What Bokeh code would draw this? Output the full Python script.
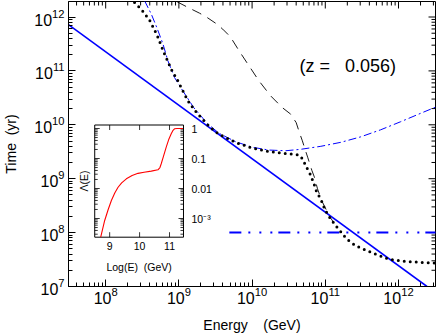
import math
from bokeh.plotting import figure
from bokeh.models import FixedTicker, Range1d, LinearScale, LogScale, LogTickFormatter
from bokeh.embed import file_html
from bokeh.resources import INLINE
from bokeh.core.properties import value

# ---------------- data (E in GeV, time in yr) ----------------
dot_E = [2.48e8, 3.13e8, 3.97e8, 5.01e8, 6.25e8, 7.85e8, 9.68e8, 1.13e9, 1.33e9, 1.60e9,
         2.01e9, 2.48e9, 3.05e9, 3.54e9, 5.98e9, 1.01e10, 1.70e10, 2.87e10, 4.36e10, 4.89e10,
         5.42e10, 6.21e10, 6.90e10, 7.66e10, 8.69e10, 9.55e10, 1.07e11, 1.19e11, 1.39e11,
         1.59e11, 1.80e11, 2.11e11, 2.61e11, 3.17e11, 4.83e11, 7.33e11, 1.24e12, 3.17e12]
dot_T = [1.86e12, 1.34e12, 8.77e11, 4.68e11, 2.19e11, 1.08e11, 6.55e10, 4.28e10, 2.79e10, 1.95e10,
         1.36e10, 1.00e10, 7.74e9, 6.71e9, 4.70e9, 3.70e9, 3.20e9, 2.94e9, 2.77e9, 2.34e9,
         1.73e9, 1.22e9, 8.51e8, 5.55e8, 4.19e8, 3.01e8, 2.20e8, 1.78e8, 1.34e8,
         1.08e8, 8.71e7, 7.03e7, 5.68e7, 5.07e7, 3.99e7, 3.22e7, 2.91e7, 2.72e7]

dashdot_E = [3.40e8, 4.20e8, 5.01e8, 6.05e8, 7.08e8, 8.71e8, 1.13e9, 1.60e9, 2.48e9, 3.54e9, 5.98e9,
             1.01e10, 1.70e10, 2.87e10, 4.63e10, 8.69e10, 1.63e11, 3.05e11, 5.70e11, 1.07e12, 2.00e12, 3.30e12]
dashdot_T = [2.0e12, 1.13e12, 6.31e11, 3.18e11, 1.54e11, 7.55e10, 4.28e10, 2.07e10, 1.04e10, 6.95e9, 4.84e9,
             3.83e9, 3.40e9, 3.30e9, 3.51e9, 3.99e9, 4.73e9, 5.98e9, 8.07e9, 1.14e10, 1.63e10, 2.16e10]

dash_E = [9.48e8, 1.39e9, 1.91e9, 2.43e9, 3.22e9, 3.97e9, 5.05e9, 6.64e9, 9.08e9, 1.24e10, 1.79e10,
          2.58e10, 3.36e10, 4.00e10, 4.43e10, 4.86e10, 5.26e10, 5.78e10, 6.55e10, 7.08e10, 7.83e10,
          8.95e10, 1.02e11, 1.13e11, 1.31e11]
dash_T = [1.91e12, 1.46e12, 1.18e12, 9.79e11, 7.57e11, 5.96e11, 4.29e11, 2.36e11, 1.24e11, 6.55e10, 3.45e10,
          2.09e10, 1.58e10, 1.10e10, 7.19e9, 5.05e9, 3.59e9, 2.44e9, 1.43e9, 1.08e9, 6.50e8,
          3.89e8, 2.73e8, 2.05e8, 1.52e8]

solid_E = [3.1e7, 2.45e12]
solid_T = [7.24e11, 1.0e7]

horiz_E = [4.89e9, 3.3e12]
horiz_T = [1.0e8, 1.0e8]

inset_logE = [8.70, 8.833, 8.95, 9.057, 9.17, 9.28, 9.40, 9.557, 9.75, 9.947, 10.15, 10.39,
              10.613, 10.68, 10.723, 10.80, 10.89, 10.97, 11.057, 11.11, 11.167, 11.25, 11.447]
inset_lambda = [2.4e-4, 8.6e-4, 2.0e-3, 4.0e-3, 7.1e-3, 1.1e-2, 1.55e-2, 2.1e-2, 2.7e-2, 3.2e-2, 3.5e-2, 3.8e-2,
                4.2e-2, 5.0e-2, 6.7e-2, 0.12, 0.24, 0.42, 0.67, 0.85, 0.98, 1.0, 1.0]

x_ticks = [1e8, 1e9, 1e10, 1e11, 1e12]
y_ticks = [1e7, 1e8, 1e9, 1e10, 1e11, 1e12]

inset_x_ticks = [9, 10, 11]
inset_x_tick_labels = ["9", "10", "11"]
inset_y_ticks = [1.0, 0.1, 0.01, 0.001]
inset_y_tick_labels = ["1", "0.1", "0.01", "10⁻³"]

annotation = "(z\u00a0=\u00a0\u00a0\u00a00.056)"
x_title = "Energy\u00a0\u00a0\u00a0\u00a0(GeV)"
y_title = "Time\u00a0\u00a0(yr)"

# ---------------- layout ----------------
FONT = "Liberation Sans"
W, H = 436, 335
BL, BR, BT, BB = 67, 1, 1, 49
FW, FH = W - BL - BR, H - BT - BB
PX_DEC_X, PX_DEC_Y = 73.4, 53.9
X_LO = 7.492
X_HI = X_LO + FW / PX_DEC_X
Y_LO = 7.0
Y_HI = Y_LO + FH / PX_DEC_Y

# inset box, in px relative to the frame's left / top edge
IN_L, IN_R, IN_T, IN_B = 26.3, 115.3, 123.5, 235.7
IX0, IX1 = 8.5, 11.467          # inset x limits (log E)
IY0, IY1 = -3.623, 0.117        # inset y limits (log10 Lambda)
ipx_x = (IN_R - IN_L) / (IX1 - IX0)
ipx_y = (IN_B - IN_T) / (IY1 - IY0)
ix_start = IX0 - IN_L / ipx_x
ix_end = IX1 + (FW - IN_R) / ipx_x
iy_hi = IY1 + IN_T / ipx_y
iy_lo = IY0 - (FH - IN_B) / ipx_y

p = figure(width=W, height=H, x_axis_type="log", y_axis_type="log",
           x_range=Range1d(10 ** X_LO, 10 ** X_HI), y_range=Range1d(10 ** Y_LO, 10 ** Y_HI),
           output_backend="svg", toolbar_location=None,
           min_border_left=BL, min_border_right=BR, min_border_top=BT, min_border_bottom=BB)
p.grid.visible = False
p.outline_line_color = "black"
p.outline_line_width = 1
p.background_fill_color = "white"
p.border_fill_color = "white"


def minors(lo, hi):
    out = []
    for d in range(int(math.floor(lo)) - 1, int(math.ceil(hi)) + 1):
        for m in range(2, 10):
            v = m * 10.0 ** d
            if 10 ** lo <= v <= 10 ** hi:
                out.append(v)
    return out


MAJ_IN, MIN_IN = 7, 4
xm = minors(X_LO, X_HI)
ym = minors(Y_LO, Y_HI)
for ax, ticks, mn in ((p.xaxis[0], x_ticks, xm), (p.yaxis[0], y_ticks, ym)):
    ax.ticker = FixedTicker(ticks=ticks, minor_ticks=mn)
    ax.formatter = LogTickFormatter()
    ax.major_tick_in = MAJ_IN
    ax.major_tick_out = 0
    ax.minor_tick_in = MIN_IN
    ax.minor_tick_out = 0
    ax.axis_line_color = "black"
    ax.major_tick_line_color = "black"
    ax.minor_tick_line_color = "black"
    ax.major_label_text_font = FONT
    ax.major_label_text_font_size = "16px"
    ax.major_label_text_color = "black"
    ax.axis_label_text_font = FONT
    ax.axis_label_text_font_size = "14px"
    ax.axis_label_text_font_style = "normal"
    ax.axis_label_text_color = "black"
p.xaxis.major_label_standoff = 0
p.yaxis.major_label_standoff = 4
p.xaxis.axis_label = x_title
p.yaxis.axis_label = y_title
p.xaxis.axis_label_standoff = 10
p.yaxis.axis_label_standoff = 12

# inward ticks on the top and right frame edges
yT, xR = 10 ** Y_HI, 10 ** X_HI
tx0 = list(x_ticks) + xm
tlen = [MAJ_IN] * len(x_ticks) + [MIN_IN] * len(xm)
p.segment(x0=tx0, x1=tx0, y0=[yT] * len(tx0), y1=[yT / 10 ** (L / PX_DEC_Y) for L in tlen],
          line_color="black", line_width=1)
ty0 = list(y_ticks) + ym
tlen = [MAJ_IN] * len(y_ticks) + [MIN_IN] * len(ym)
p.segment(x0=[xR] * len(ty0), x1=[xR / 10 ** (L / PX_DEC_X) for L in tlen], y0=ty0, y1=ty0,
          line_color="black", line_width=1)

# ---------------- main curves ----------------
p.line(solid_E, solid_T, line_color="#0000ff", line_width=1.6)
p.line(dash_E, dash_T, line_color="black", line_width=0.9, line_dash="10 7")
p.line(dashdot_E, dashdot_T, line_color="#0000ff", line_width=1.0, line_dash="8 3 2 3")
p.line(horiz_E, horiz_T, line_color="#0000ff", line_width=2.0, line_dash="12 7 2 9 2 9 2 6")
p.line(dot_E, dot_T, line_color="black", line_width=3.0, line_dash="0 6", line_cap="round")

p.text(x=[2.03e11], y=[1.23e11], text=[annotation], text_font=value(FONT),
       text_font_size="18px", text_align="center", text_baseline="middle", text_color="black")

# ---------------- inset ----------------
p.extra_x_ranges = {"ix": Range1d(ix_start, ix_end)}
p.extra_x_scales = {"ix": LinearScale()}
p.extra_y_ranges = {"iy": Range1d(10 ** iy_lo, 10 ** iy_hi)}
p.extra_y_scales = {"iy": LogScale()}
kw = dict(x_range_name="ix", y_range_name="iy")

yb, yt = 10 ** IY0, 10 ** IY1
p.quad(left=[IX0], right=[IX1], bottom=[yb], top=[yt], fill_color="white",
       line_color="black", line_width=1, **kw)

x0s, y0s, x1s, y1s = [], [], [], []
MAJ, MIN = 5, 3
for t in inset_x_ticks:
    x0s += [t, t]; x1s += [t, t]
    y0s += [yb, yt]; y1s += [yb * 10 ** (MAJ / ipx_y), yt / 10 ** (MAJ / ipx_y)]
inset_minor = minors(IY0, IY1)
for v, L in [(v, MAJ) for v in inset_y_ticks] + [(v, MIN) for v in inset_minor]:
    x0s += [IX0, IX1]; x1s += [IX0 + L / ipx_x, IX1 - L / ipx_x]
    y0s += [v, v]; y1s += [v, v]
p.segment(x0=x0s, y0=y0s, x1=x1s, y1=y1s, line_color="black", line_width=0.8, **kw)

p.line(inset_logE, inset_lambda, line_color="#ff0000", line_width=1.1, **kw)

tf = value(FONT)
p.text(x=inset_x_ticks, y=[yb] * len(inset_x_ticks), text=inset_x_tick_labels, y_offset=5,
       text_font=tf, text_font_size="10.5px", text_align="center", text_baseline="top",
       text_color="black", **kw)
p.text(x=[IX1] * len(inset_y_ticks), y=inset_y_ticks, text=inset_y_tick_labels, x_offset=8,
       text_font=tf, text_font_size="10.5px", text_align="left", text_baseline="middle",
       text_color="black", **kw)
p.text(x=[(IX0 + IX1) / 2], y=[yb], text=["Log(E)\u00a0\u00a0(GeV)"], y_offset=24,
       text_font=tf, text_font_size="10.5px", text_align="center", text_baseline="top",
       text_color="black", **kw)
p.text(x=[IX0], y=[10 ** ((IY0 + IY1) / 2)], text=["Λ(E)"], x_offset=-5, angle=math.pi / 2,
       text_font=tf, text_font_size="10.5px", text_align="center", text_baseline="bottom",
       text_color="black", **kw)

open("out.html", "w").write(file_html(p, INLINE))
